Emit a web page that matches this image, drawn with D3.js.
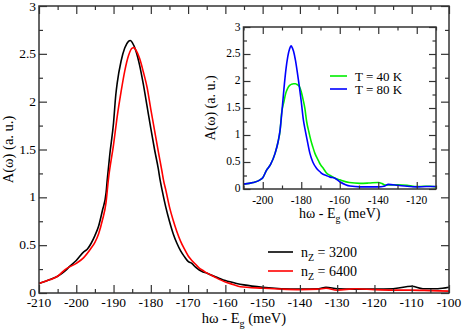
<!DOCTYPE html>
<html>
<head>
<meta charset="utf-8">
<script src="https://cdn.jsdelivr.net/npm/d3@7"></script>
<style>
body { margin: 0; background: #fff; }
text { font-family: "Liberation Serif", "DejaVu Serif", "Times New Roman", serif; }
</style>
</head>
<body>
<svg width="463" height="331"></svg>
<script>
// main panel: n_Z = 3200 (black) and n_Z = 6400 (red)
const energy3200 = [-210,-207,-205,-203,-202,-200,-198,-197,-196,-195,-194,-193,-192,-191.7,-191,-190,-189.4,-189,-188,-187,-186,-185.5,-185,-184,-183,-182,-181,-180,-179,-178,-177.5,-177,-176,-175,-174,-173,-172,-171,-170,-169,-168,-167,-166,-165,-164,-162,-160,-157,-155,-150,-145,-140,-135,-133,-130,-125,-120,-115,-110,-107,-103,-100]
const a3200 = [0.10,0.14,0.175,0.23,0.27,0.34,0.43,0.46,0.52,0.60,0.70,0.86,1.05,1.18,1.45,1.78,2.07,2.20,2.42,2.56,2.63,2.64,2.62,2.53,2.38,2.18,1.95,1.72,1.50,1.30,1.18,1.08,0.90,0.75,0.62,0.52,0.44,0.38,0.33,0.31,0.27,0.24,0.22,0.21,0.19,0.16,0.13,0.10,0.085,0.06,0.045,0.04,0.045,0.06,0.045,0.04,0.04,0.045,0.07,0.045,0.045,0.06]

const energy6400 = [-210,-207,-205,-203,-200,-198,-196,-195,-194,-193,-192,-191.4,-190,-189,-188,-187,-186,-185,-184.5,-184,-183,-182,-181,-180,-179,-178,-177,-176.6,-176,-175,-174,-173,-172,-171,-170,-169,-168,-167,-166,-165,-163,-160,-158,-156,-150,-145,-140,-135,-133,-130,-125,-120,-115,-110,-105,-100]
const a6400 = [0.10,0.14,0.175,0.245,0.31,0.37,0.47,0.53,0.62,0.76,0.95,1.18,1.55,1.85,2.10,2.32,2.48,2.56,2.565,2.54,2.45,2.31,2.15,1.92,1.70,1.48,1.27,1.18,1.08,0.90,0.76,0.64,0.54,0.46,0.39,0.34,0.30,0.26,0.235,0.21,0.17,0.115,0.09,0.065,0.05,0.04,0.035,0.04,0.05,0.03,0.045,0.035,0.03,0.03,0.025,0.02]

// inset: T = 40 K (green) and T = 80 K (blue)
const energy40 = [-210,-205,-201.4,-200,-198,-196,-193.6,-192,-191,-190.2,-189,-188,-187,-186,-185,-184,-183,-182.4,-181,-180,-179,-178.1,-177.2,-176,-175,-174,-172.9,-171,-170,-168.5,-167,-165,-162.5,-160,-155,-149.5,-145,-140,-138,-136.5,-130,-125,-121,-116,-113,-110]
const a40 = [0.09,0.12,0.17,0.21,0.35,0.45,0.66,0.88,1.08,1.40,1.62,1.78,1.87,1.92,1.94,1.95,1.95,1.94,1.90,1.80,1.65,1.49,1.25,1.05,0.90,0.78,0.66,0.52,0.45,0.38,0.30,0.25,0.20,0.17,0.12,0.105,0.11,0.12,0.10,0.074,0.08,0.07,0.045,0.05,0.05,0.04]

const energy80 = [-210,-205,-201.4,-200,-198,-196,-193.6,-192,-191,-190,-189,-188,-187,-186,-185.3,-185,-184,-183,-182,-181,-180,-178.9,-178,-177,-175.5,-174,-172,-170,-169.4,-167,-165,-162.5,-160,-157,-154.7,-149.5,-145,-140,-137,-134.8,-130,-125,-120,-115,-110]
const a80 = [0.09,0.12,0.17,0.21,0.35,0.45,0.66,0.88,1.09,1.45,1.85,2.20,2.45,2.60,2.65,2.64,2.55,2.38,2.15,1.90,1.62,1.28,1.10,0.92,0.66,0.50,0.38,0.31,0.29,0.25,0.22,0.20,0.135,0.08,0.055,0.04,0.04,0.04,0.05,0.085,0.07,0.05,0.04,0.045,0.045]

const mainXTicks = d3.range(-210, -99, 10)
const insetXTicks = d3.range(-200, -119, 20)
const yTicks = [0, 0.5, 1, 1.5, 2, 2.5, 3]

const mainLegend = [["3200", "#000000"], ["6400", "#ff0000"]]
const insetLegend = [["T = 40 K", "#00ee00"], ["T = 80 K", "#0000ff"]]

const FONT = "Liberation Serif, DejaVu Serif, serif"
const svg = d3.select("svg")

function drawPanel(opts){
    const x = d3.scaleLinear().domain(opts.xDomain).range([opts.left, opts.right])
    const y = d3.scaleLinear().domain([0, 3]).range([opts.bottom, opts.top])
    const g = svg.append("g")

    g.append("rect")
        .attr("x", opts.left).attr("y", opts.top)
        .attr("width", opts.right - opts.left).attr("height", opts.bottom - opts.top)
        .attr("fill", "#fff")

    const line = d3.line()
        .x(d => x(d[0]))
        .y(d => y(d[1]))
        .curve(d3.curveMonotoneX)

    opts.series.forEach(s => {
        g.append("path")
            .datum(s.xs.map((v, i) => [v, s.ys[i]]))
            .attr("d", line)
            .attr("fill", "none")
            .attr("stroke", s.color)
            .attr("stroke-width", 1.6)
    })

    // ticks point inward and repeat on all four sides
    const half = opts.xStep / 2
    const xMin = d3.range(opts.xDomain[0], opts.xDomain[1] + 0.1, half)
        .filter(v => !opts.xTicks.includes(v))
    const yMin = [0.25, 0.75, 1.25, 1.75, 2.25, 2.75]

    const setups = [
        [d3.axisBottom, x, opts.xTicks, xMin, `translate(0,${opts.bottom})`],
        [d3.axisTop, x, opts.xTicks, xMin, `translate(0,${opts.top})`],
        [d3.axisLeft, y, yTicks, yMin, `translate(${opts.left},0)`],
        [d3.axisRight, y, yTicks, yMin, `translate(${opts.right},0)`]
    ]
    setups.forEach(([axis, sc, maj, min, tr]) => {
        [[maj, opts.tickLen], [min, opts.tickLen / 2]].forEach(([vals, len]) => {
            const ag = g.append("g").attr("transform", tr)
                .call(axis(sc).tickValues(vals).tickSizeInner(-len).tickSizeOuter(0).tickFormat(""))
            ag.select(".domain").remove()
            ag.selectAll("line").attr("stroke", "#333").attr("stroke-width", 1.2)
        })
    })

    g.append("rect")
        .attr("x", opts.left).attr("y", opts.top)
        .attr("width", opts.right - opts.left).attr("height", opts.bottom - opts.top)
        .attr("fill", "none").attr("stroke", "#333").attr("stroke-width", 1.5)

    // tick labels
    g.selectAll("text.xl")
        .data(opts.xTicks)
        .enter().append("text")
        .attr("x", d => x(d))
        .attr("y", opts.bottom + opts.xTickDy)
        .attr("text-anchor", "middle")
        .attr("font-family", FONT)
        .attr("font-size", opts.fs)
        .text(d => d)

    g.selectAll("text.yl")
        .data(yTicks)
        .enter().append("text")
        .attr("x", opts.left - 3)
        .attr("y", d => y(d) + opts.fs * 0.3 + (d === 3 ? 1 : 0))
        .attr("text-anchor", "end")
        .attr("font-family", FONT)
        .attr("font-size", opts.fs)
        .text(d => d)

    const xt = g.append("text")
        .attr("x", (opts.left + opts.right) / 2)
        .attr("y", opts.xLabelY)
        .attr("text-anchor", "middle")
        .attr("font-family", FONT)
        .attr("font-size", opts.lfs)
    xt.append("tspan").text("hω - E")
    xt.append("tspan").attr("dy", 4).attr("font-size", opts.lfs * 0.7).text("g")
    xt.append("tspan").attr("dy", -4).text(" (meV)")

    g.append("text")
        .attr("transform", `translate(${opts.yLabelX},${(opts.top + opts.bottom) / 2}) rotate(-90)`)
        .attr("text-anchor", "middle")
        .attr("font-family", FONT)
        .attr("font-size", opts.lfs)
        .text("A(ω) (a. u.)")

    return {x, y, g}
}

drawPanel({
    left: 39, right: 449, top: 6, bottom: 293,
    xDomain: [-210, -100], xTicks: mainXTicks, xStep: 10,
    tickLen: 8, fs: 13.5, lfs: 14.5, xTickDy: 14, xLabelY: 323, yLabelX: 13,
    series: [
        {xs: energy3200, ys: a3200, color: "#000000"},
        {xs: energy6400, ys: a6400, color: "#ff0000"}
    ]
})

drawPanel({
    left: 243.5, right: 436, top: 27, bottom: 189,
    xDomain: [-210, -110], xTicks: insetXTicks, xStep: 20,
    tickLen: 7, fs: 11.5, lfs: 14, xTickDy: 14.5, xLabelY: 218, yLabelX: 215,
    series: [
        {xs: energy40, ys: a40, color: "#00ee00"},
        {xs: energy80, ys: a80, color: "#0000ff"}
    ]
})

// legends
const lg = svg.append("g")
mainLegend.forEach(([n, c], i) => {
    const yy = 252 + i * 19
    lg.append("line").attr("x1", 268).attr("x2", 293).attr("y1", yy).attr("y2", yy)
        .attr("stroke", c).attr("stroke-width", 1.6)
    const t = lg.append("text").attr("x", 301).attr("y", yy + 5)
        .attr("font-family", FONT).attr("font-size", 14)
    t.append("tspan").text("n")
    t.append("tspan").attr("dy", 4).attr("font-size", 10).text("Z")
    t.append("tspan").attr("dy", -4).text(" = " + n)
})
insetLegend.forEach(([n, c], i) => {
    const yy = 76 + i * 13
    lg.append("line").attr("x1", 330).attr("x2", 347).attr("y1", yy).attr("y2", yy)
        .attr("stroke", c).attr("stroke-width", 1.6)
    lg.append("text").attr("x", 355).attr("y", yy + 4.5)
        .attr("font-family", FONT).attr("font-size", 13).text(n)
})
</script>
</body>
</html>
